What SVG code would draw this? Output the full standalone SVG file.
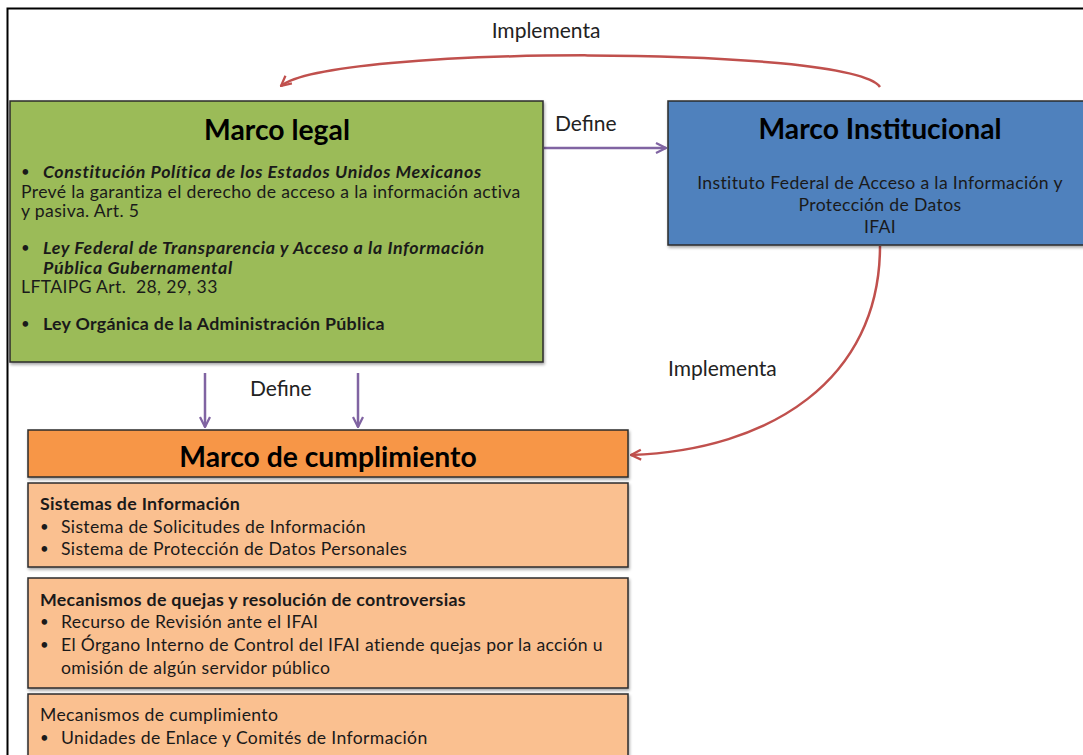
<svg xmlns="http://www.w3.org/2000/svg" width="1083" height="755" viewBox="0 0 1083 755">
<defs>
<style>
text{font-family:Lato,"Open Sans","Liberation Sans",sans-serif;fill:#1a1a1a}
.t{font-size:28.3px;font-weight:bold;text-anchor:middle;fill:#000}
.b{font-size:17.6px;letter-spacing:0.35px}
.bi{font-size:17.8px;font-weight:bold;font-style:italic;letter-spacing:0.65px}
.bb{font-size:17.8px;font-weight:bold;letter-spacing:0.3px}
.u{font-size:15px}
.c{text-anchor:middle}
.lbl{font-size:21px;fill:#222}
.box{stroke:#2b2b2b;stroke-width:1.5}
.def{stroke:#8064A2;stroke-width:2.5;fill:none}
.imp{stroke:#C0504D;stroke-width:2.5;fill:none}
</style>
<marker id="ap" viewBox="0 0 10 10" refX="9" refY="5" markerWidth="5" markerHeight="5" orient="auto"><path d="M1 1 L9 5 L1 9" fill="none" stroke="#8064A2" stroke-width="1.8"/></marker>
<marker id="ar" viewBox="0 0 10 10" refX="9" refY="5" markerWidth="5" markerHeight="5" orient="auto"><path d="M1 1 L9 5 L1 9" fill="none" stroke="#C0504D" stroke-width="1.8"/></marker>
<filter id="sh" x="-5%" y="-5%" width="110%" height="115%"><feDropShadow dx="1" dy="2" stdDeviation="1.5" flood-color="#000" flood-opacity="0.35"/></filter>
</defs>
<rect width="1083" height="755" fill="#fff"/>
<path d="M7.5 755 V8.5 H1083" fill="none" stroke="#000" stroke-width="2"/>

<g id="connectors">
<path class="imp" d="M880 87 C850 45 330 45 281 86" marker-end="url(#ar)"/>
<text class="lbl c" x="546" y="38">Implementa</text>
<path class="def" d="M544 148 H666" marker-end="url(#ap)"/>
<text class="lbl" x="555" y="131">Define</text>
<path class="def" d="M205 373 V427" marker-end="url(#ap)"/>
<path class="def" d="M358 373 V427" marker-end="url(#ap)"/>
<text class="lbl" x="250" y="396">Define</text>
<path class="imp" d="M880 246 C880 380 770 450 631 455" marker-end="url(#ar)"/>
<text class="lbl" x="668" y="376">Implementa</text>
</g>

<g id="marco-legal">
<rect class="box" x="10" y="101" width="533" height="261" fill="#9BBB59" filter="url(#sh)"/>
<text class="t" x="277" y="140">Marco legal</text>
<text class="u" x="21" y="177">•</text>
<text class="bi" x="43" y="178">Constitución Política de los Estados Unidos Mexicanos</text>
<text class="b" x="21" y="198">Prevé la garantiza el derecho de acceso a la información activa</text>
<text class="b" x="21" y="217">y pasiva. Art. 5</text>
<text class="u" x="21" y="253">•</text>
<text class="bi" x="43" y="254">Ley Federal de Transparencia y Acceso a la Información</text>
<text class="bi" x="43" y="274">Pública Gubernamental</text>
<text class="b" x="21" y="293" xml:space="preserve">LFTAIPG Art.  28, 29, 33</text>
<text class="u" x="21" y="329">•</text>
<text class="bb" x="43" y="330">Ley Orgánica de la Administración Pública</text>
</g>

<g id="marco-institucional">
<rect class="box" x="668" y="101" width="420" height="144" fill="#4F81BD" filter="url(#sh)"/>
<text class="t" x="880" y="139">Marco Institucional</text>
<text class="b c" x="880" y="189">Instituto Federal de Acceso a la Información y</text>
<text class="b c" x="880" y="211">Protección de Datos</text>
<text class="b c" x="880" y="233">IFAI</text>
</g>

<g id="marco-cumplimiento">
<rect class="box" x="28" y="430" width="600" height="47" fill="#F79646" filter="url(#sh)"/>
<text class="t" x="328" y="467">Marco de cumplimiento</text>
</g>

<g id="sistemas">
<rect class="box" x="28" y="483" width="600" height="84" fill="#FAC090" filter="url(#sh)"/>
<text class="bb" x="40" y="510">Sistemas de Información</text>
<text class="u" x="40" y="532">•</text>
<text class="b" x="61" y="533">Sistema de Solicitudes de Información</text>
<text class="u" x="40" y="554">•</text>
<text class="b" x="61" y="555">Sistema de Protección de Datos Personales</text>
</g>

<g id="mecanismos-quejas">
<rect class="box" x="28" y="578" width="600" height="110" fill="#FAC090" filter="url(#sh)"/>
<text class="bb" x="40" y="606">Mecanismos de quejas y resolución de controversias</text>
<text class="u" x="40" y="627">•</text>
<text class="b" x="61" y="628">Recurso de Revisión ante el IFAI</text>
<text class="u" x="40" y="650">•</text>
<text class="b" x="61" y="651">El Órgano Interno de Control del IFAI atiende quejas por la acción u</text>
<text class="b" x="61" y="674">omisión de algún servidor público</text>
</g>

<g id="mecanismos-cumplimiento">
<rect class="box" x="28" y="694" width="600" height="70" fill="#FAC090" filter="url(#sh)"/>
<text class="b" x="40" y="721">Mecanismos de cumplimiento</text>
<text class="u" x="40" y="743">•</text>
<text class="b" x="61" y="744">Unidades de Enlace y Comités de Información</text>
</g>
</svg>
